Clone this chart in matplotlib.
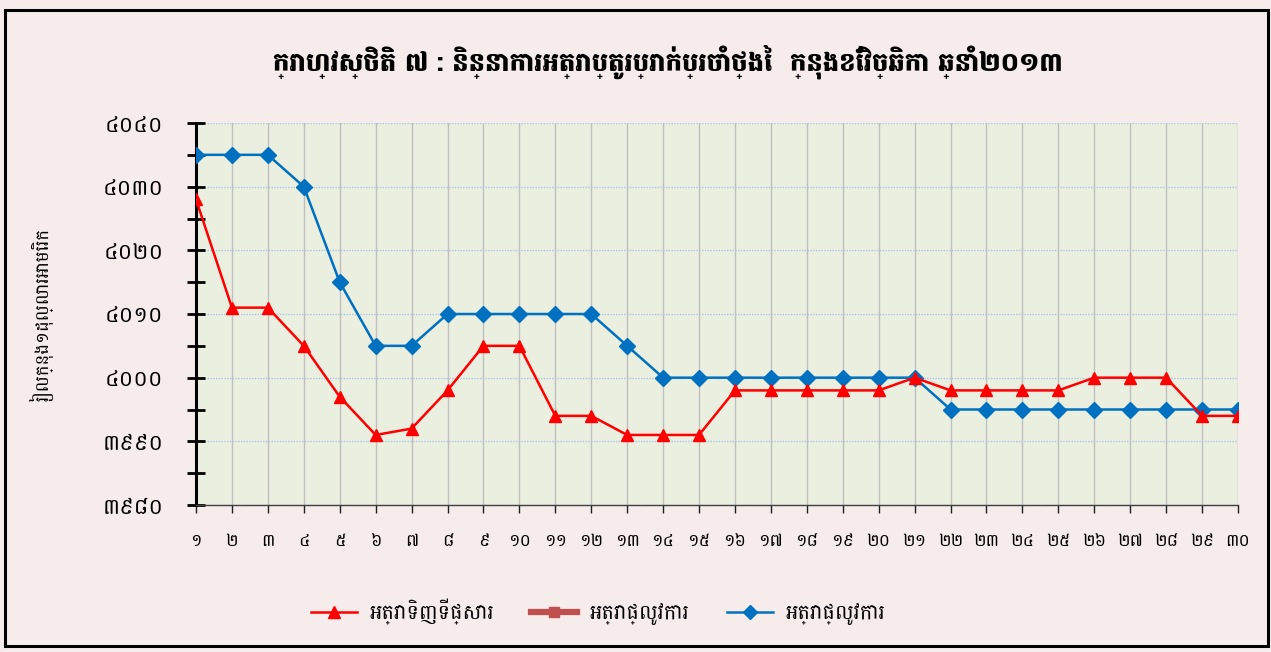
import matplotlib
matplotlib.use("Agg")
import matplotlib.pyplot as plt
from matplotlib.patches import Rectangle
from matplotlib.lines import Line2D
from matplotlib.ticker import MultipleLocator

# ---------------- data ----------------
days = list(range(1, 31))
day_labels = ["១", "២", "៣", "៤", "៥", "៦", "៧", "៨", "៩", "១០",
              "១១", "១២", "១៣", "១៤", "១៥", "១៦", "១៧", "១៨", "១៩", "២០",
              "២១", "២២", "២៣", "២៤", "២៥", "២៦", "២៧", "២៨", "២៩", "៣០"]
market_buy = [4028, 4011, 4011, 4005, 3997, 3991, 3992, 3998, 4005, 4005,
              3994, 3994, 3991, 3991, 3991, 3998, 3998, 3998, 3998, 3998,
              4000, 3998, 3998, 3998, 3998, 4000, 4000, 4000, 3994, 3994]
official = [4035, 4035, 4035, 4030, 4015, 4005, 4005, 4010, 4010, 4010,
            4010, 4010, 4005, 4000, 4000, 4000, 4000, 4000, 4000, 4000,
            4000, 3995, 3995, 3995, 3995, 3995, 3995, 3995, 3995, 3995]
y_ticks = [3980, 3990, 4000, 4010, 4020, 4030, 4040]
y_labels = ["៣៩៨០", "៣៩៩០", "៤០០០", "៤០១០", "៤០២០", "៤០៣០", "៤០៤០"]
title = "ក្រាហ្វស្ថិតិ ៧ : និន្នាការអត្រាប្តូរប្រាក់ប្រចាំថ្ងៃ  ក្នុងខែវិច្ឆិកា ឆ្នាំ២០១៣"
y_title = "រៀលក្នុង១ដុល្លារអាមេរិក"
legend_labels = ["អត្រាទិញទីផ្សារ", "អត្រាផ្លូវការ", "អត្រាផ្លូវការ"]

# ---------------- font ----------------
plt.rcParams["font.family"] = ["Battambang", "DejaVu Sans"]

# ---------------- figure ----------------
W, H = 1271, 652
fig = plt.figure(figsize=(W / 100, H / 100), dpi=100)
fig.patch.set_facecolor("#F6ECEB")

fig.add_artist(Rectangle((5 / W, 1 - 646 / H), 1263 / W, 636 / H,
                         transform=fig.transFigure, fill=False,
                         edgecolor="black", linewidth=2.2))

ax = fig.add_axes([196 / W, 1 - 505 / H, (1238 - 196) / W, (505 - 123) / H])
ax.set_facecolor("#EBEFDF")

ax.plot(days, market_buy, color="#FF0000", linewidth=1.8, marker="^",
        markersize=9, zorder=4)
ax.plot(days, official, color="#0070C0", linewidth=1.8, marker="D",
        markersize=8, zorder=3)

ax.set_xlim(1, 30)
ax.set_ylim(3980, 4040)
ax.set_xticks(days)
ax.set_xticklabels(day_labels, fontsize=12.5)
ax.set_yticks(y_ticks)
ax.set_yticklabels(y_labels, fontsize=16)
ax.yaxis.set_minor_locator(MultipleLocator(5))

for s in ["top", "right"]:
    ax.spines[s].set_visible(False)
ax.spines["left"].set_linewidth(2.2)
ax.spines["left"].set_color("black")
ax.spines["bottom"].set_linewidth(1.0)
ax.spines["bottom"].set_color("#404040")

ax.tick_params(axis="y", which="both", direction="inout", length=13,
               width=2, color="black", pad=17)
ax.tick_params(axis="x", direction="out", length=6, width=1,
               color="#202020", pad=14)

ax.grid(axis="x", color="#BFBFBF", linewidth=1.0, zorder=0)
ax.grid(axis="y", color="#A9C6E6", linewidth=1.0, linestyle=(0, (1, 1)),
        zorder=0)
ax.set_axisbelow(True)

ax.set_ylabel(y_title, fontsize=13)
ax.yaxis.set_label_coords(-0.137, 0.5)

fig.text(668 / W, 1 - 62 / H, title, ha="center", va="center",
         fontsize=18.6, fontweight=900)

handles = [
    Line2D([], [], color="#FF0000", linewidth=1.8, marker="^", markersize=9),
    Line2D([], [], color="#C0504D", linewidth=4.5, marker="s", markersize=7),
    Line2D([], [], color="#0070C0", linewidth=1.8, marker="D", markersize=7),
]
fig.legend(handles, legend_labels, loc="center", ncol=3,
           bbox_to_anchor=(598 / W, 1 - 612 / H), frameon=False,
           fontsize=15, handlelength=2.2, columnspacing=1.8, handletextpad=0.6)

fig.savefig("out.png", dpi=100, facecolor=fig.get_facecolor())
